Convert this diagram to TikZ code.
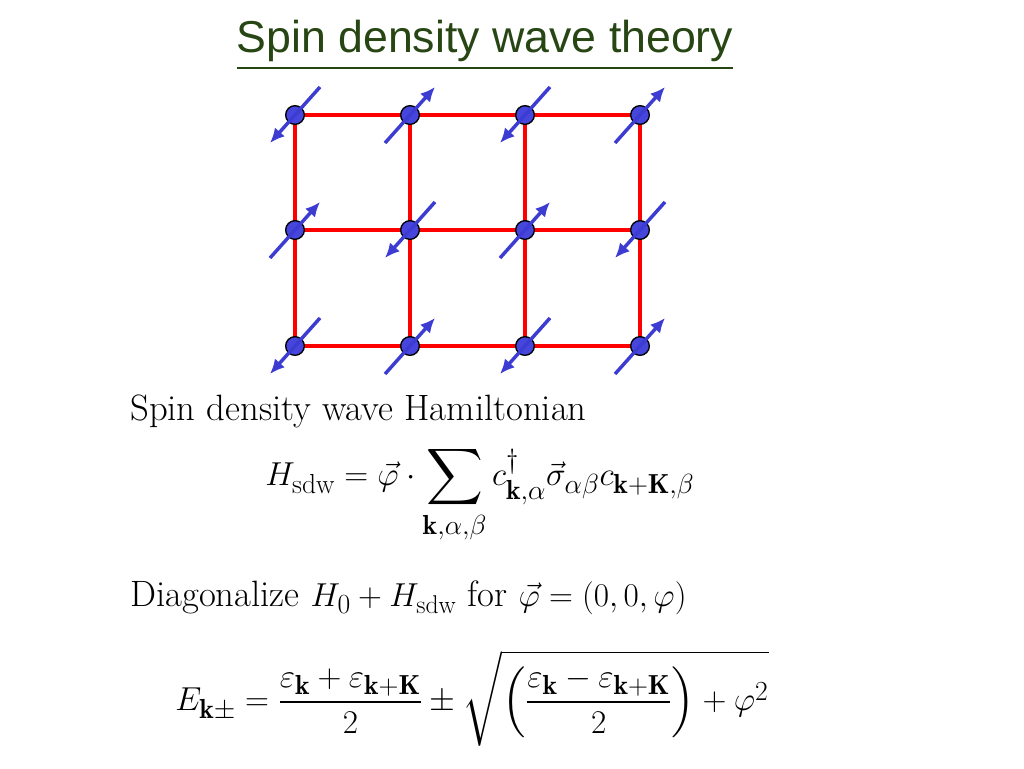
\documentclass[tikz,border=0pt]{standalone}
\usepackage{amsmath,amssymb}
\usepackage{fontspec}
\usetikzlibrary{arrows.meta,calc}
\newfontfamily\arial{Liberation Sans}
\definecolor{tgreen}{RGB}{40,70,20}
\definecolor{sblue}{RGB}{60,60,210}
\definecolor{dblue}{RGB}{70,70,220}
\begin{document}
\begin{tikzpicture}[x=0.75pt,y=-0.75pt,
  site/.style={circle,fill=dblue,draw=black,line width=1pt,minimum size=14pt,inner sep=0pt},
  bond/.style={red,line width=3.5pt},
  spin/.style={sblue,line width=2.6pt,-{Latex[length=11pt,width=10pt]}},
  txt/.style={anchor=west,inner sep=0pt,font=\fontsize{27.5}{32}\selectfont},
  eqn/.style={anchor=west,inner sep=0pt,font=\fontsize{29.5}{34}\selectfont}]
\useasboundingbox (0,0) rectangle (1024,768);
\node[font=\arial\fontsize{33.5}{38}\selectfont,text=tgreen] (title) at (485,45) {\underline{Spin density wave theory}};
\foreach \r/\y in {1/115,2/230,3/346}{
  \foreach \c/\x in {1/295,2/410,3/525,4/640}{
    \coordinate (p\r\c) at (\x,\y);}}
\foreach \r in {1,2,3}{\draw[bond] (p\r1) -- (p\r4);}
\foreach \c in {1,2,3,4}{\draw[bond] (p1\c) -- (p3\c);}
\foreach \r in {1,2,3}{\foreach \c in {1,2,3,4}{\node[site] (s\r\c) at (p\r\c) {};}}
\foreach \r/\c/\d in {1/1/-1,1/2/1,1/3/-1,1/4/1,2/1/1,2/2/-1,2/3/1,2/4/-1,3/1/-1,3/2/1,3/3/-1,3/4/1}{
  \draw[spin] ($(p\r\c)+(-25*\d,28*\d)$) -- ($(p\r\c)+(25*\d,-28*\d)$);}
\node[txt] (t1) at (130,411) {Spin density wave Hamiltonian};
\node[eqn] (e1) at (265,495) {$\displaystyle H_{\mathrm{sdw}}=\vec\varphi\cdot\sum_{\mathbf{k},\alpha,\beta} c^{\dagger}_{\mathbf{k},\alpha}\vec\sigma_{\alpha\beta}c_{\mathbf{k}+\mathbf{K},\beta}$};
\node[txt] (t2) at (130,598) {Diagonalize $H_0+H_{\mathrm{sdw}}$ for $\vec\varphi=(0,0,\varphi)$};
\node[eqn] (e2) at (175,698) {$\displaystyle E_{\mathbf{k}\pm}=\frac{\varepsilon_{\mathbf{k}}+\varepsilon_{\mathbf{k}+\mathbf{K}}}{2}\pm\sqrt{\left(\frac{\varepsilon_{\mathbf{k}}-\varepsilon_{\mathbf{k}+\mathbf{K}}}{2}\right)+\varphi^2}$};
\end{tikzpicture}
\end{document}
